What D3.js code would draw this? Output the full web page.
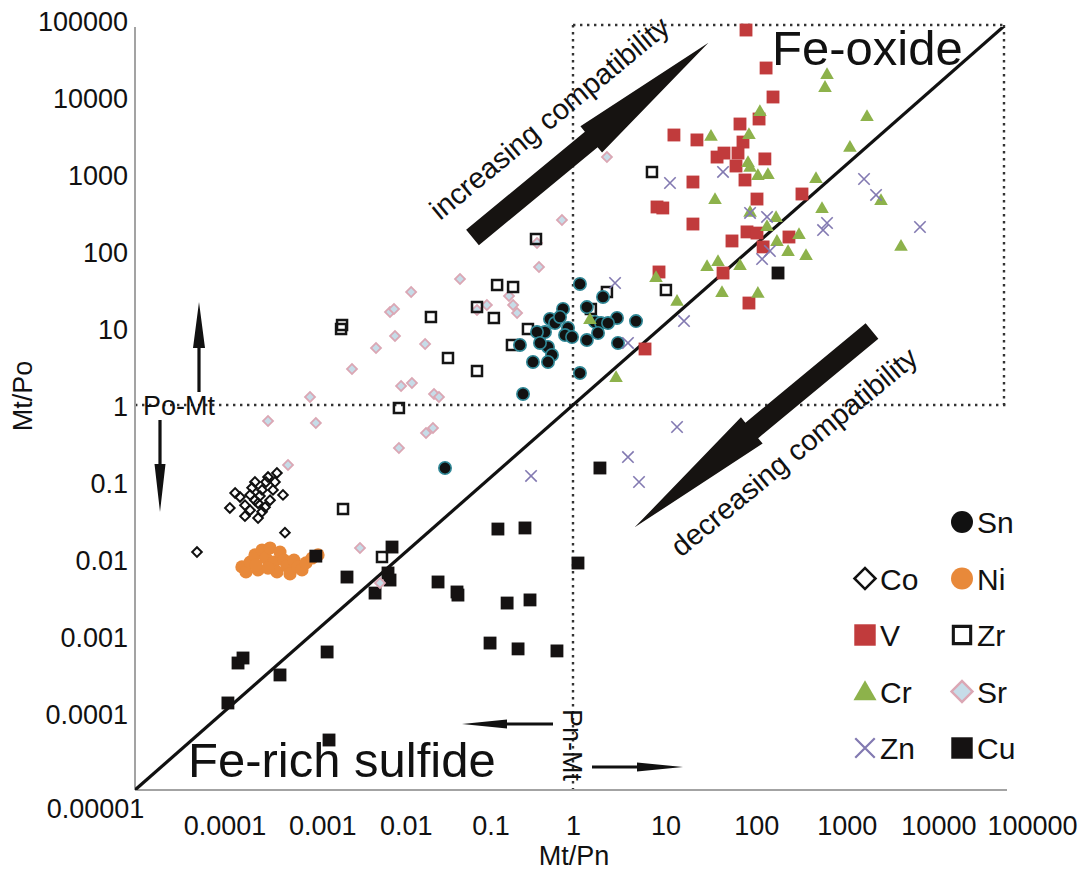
<!DOCTYPE html>
<html>
<head>
<meta charset="utf-8">
<script src="https://cdn.jsdelivr.net/npm/d3@7"></script>
<style>
  html, body { margin: 0; padding: 0; background: #fff; }
  text { font-family: "Liberation Sans", Arial, Helvetica, sans-serif; fill: #111; }
</style>
</head>
<body>
<svg id="chart" width="1086" height="870"></svg>
<script>
// ---- axis ticks ----
const tickValues = [1e-5, 1e-4, 1e-3, 1e-2, 1e-1, 1, 10, 100, 1e3, 1e4, 1e5];
const tickLabels = ["0.00001", "0.0001", "0.001", "0.01", "0.1", "1", "10", "100", "1000", "10000", "100000"];

// ---- element ratios: Mt/Pn (x) and Mt/Po (y) ----
const snMtPn = [1.20, 2.20, 0.769, 1.44, 3.18, 5.24, 1.78, 2.09, 2.51, 0.546, 0.623, 0.877, 0.479, 0.388, 0.811, 1.93, 1.44, 0.518, 0.248, 3.26, 0.576, 0.349, 0.518, 1.20, 0.269, 0.0346, 0.420, 0.711, 0.975];
const snMtPo = [37.3, 25.3, 17.7, 18.7, 13.5, 12.3, 12.0, 11.6, 11.6, 13.1, 11.6, 10.0, 8.87, 8.87, 8.11, 8.61, 6.98, 5.67, 6.02, 6.39, 4.46, 3.62, 3.62, 2.6, 1.39, 0.152, 6.39, 13.9, 7.64];

const coMtPn = [1.21e-4, 1.39e-4, 1.58e-4, 1.80e-4, 2.34e-4, 2.34e-4, 2.54e-4, 2.82e-4, 3.05e-4, 3.30e-4, 3.76e-4, 4.17e-4, 4.89e-4, 5.15e-4, 5.1e-5, 2.06e-4, 2.54e-4, 2.82e-4, 2.06e-4, 3.48e-4, 2.17e-4, 3.13e-4, 2.67e-4, 1.80e-4, 3.96e-4];
const coMtPo = [0.046, 0.072, 0.064, 0.036, 0.100, 0.058, 0.034, 0.079, 0.047, 0.116, 0.079, 0.131, 0.068, 0.022, 0.0123, 0.068, 0.053, 0.041, 0.043, 0.058, 0.084, 0.100, 0.066, 0.050, 0.100];

const niMtPn = [1.66e-4, 1.85e-4, 2.06e-4, 2.34e-4, 2.54e-4, 2.82e-4, 3.13e-4, 3.48e-4, 3.86e-4, 4.18e-4, 4.52e-4, 5.02e-4, 5.43e-4, 5.88e-4, 6.53e-4, 7.26e-4, 8.06e-4, 8.95e-4, 1.05e-3, 1.23e-3, 3.30e-4, 2.41e-4];
const niMtPo = [0.0079, 0.0068, 0.0091, 0.0113, 0.0072, 0.0131, 0.0103, 0.0139, 0.0091, 0.0068, 0.0123, 0.0097, 0.0081, 0.0064, 0.0097, 0.0079, 0.0072, 0.0089, 0.0103, 0.0113, 0.0076, 0.0084];

const vMtPn = [94.4, 160, 192, 80.6, 133, 87.2, 14.2, 26.0, 44.1, 52.9, 76.5, 72.6, 155, 91.9, 23.4, 126, 411, 9.10, 10.6, 23.4, 65.3, 96.9, 126, 148, 292, 9.59, 51.6, 102, 6.64];
const vMtPo = [74100, 23800, 10000, 4460, 5180, 2600, 3210, 2770, 1660, 1870, 1870, 1270, 1570, 836, 787, 473, 550, 373, 362, 224, 135, 177, 171, 113, 152, 53.4, 51.8, 21.1, 5.34];

const zrMtPn = [0.378, 0.136, 0.207, 0.0802, 0.0239, 0.125, 0.306, 0.201, 0.0374, 0.0802, 0.0103, 2.44, 1.60, 11.5, 2.31e-3, 2.25e-3, 7.97, 2.37e-3, 6.6e-3];
const zrMtPo = [143, 36.2, 34.1, 18.7, 13.9, 13.5, 9.7, 6.02, 4.08, 2.76, 0.914, 29.4, 17.7, 31.2, 10.9, 9.7, 1062, 0.0446, 0.0106];

const crMtPn = [794, 753, 136, 2270, 102, 37.6, 1450, 99.5, 105, 129, 168, 594, 41.8, 3280, 105, 208, 696, 164, 213, 380, 285, 457, 33.9, 45.2, 80.6, 5550, 8.86, 50.2, 129, 15.4, 3.10, 1.56];
const crMtPo = [19300, 13100, 6390, 5500, 3210, 3030, 2180, 1390, 1200, 942, 971, 861, 459, 446, 312, 268, 351, 205, 131, 161, 97, 86.1, 62, 71.9, 63.8, 113, 44.6, 28.5, 27.7, 21.8, 2.24, 12.7];

const srMtPn = [0.0513, 0.0142, 8.15e-3, 9.05e-3, 9.29e-3, 0.0205, 5.64e-3, 3.0e-3, 0.0109, 0.0145, 9.95e-4, 0.0259, 0.0295, 3.30e-4, 1.16e-3, 0.021, 0.0252, 0.0103, 0.748, 0.409, 0.388, 0.186, 0.207, 0.230, 0.104, 0.0802, 5.58e-4, 3.70e-3, 6.26e-3, 2.44];
const srMtPo = [43.3, 29.4, 16.1, 17.7, 7.87, 6.2, 5.5, 2.94, 1.77, 1.93, 1.27, 1.39, 1.27, 0.62, 0.584, 0.433, 0.503, 0.276, 253, 62, 127, 26, 19.9, 15.7, 19.9, 17.1, 0.166, 0.0139, 4.88e-3, 1660];

const znMtPn = [51.6, 12.8, 2100, 2880, 105, 164, 794, 715, 9140, 177, 144, 3.02, 18.5, 4.24, 15.4, 4.24, 5.67, 0.332];
const znMtPo = [1062, 764, 861, 534, 312, 277, 231, 187, 205, 100, 78.7, 38.4, 12.3, 6.39, 0.518, 0.211, 0.100, 0.120];

const cuMtPn = [1.15e-4, 1.50e-4, 1.71e-4, 4.52e-4, 1.56e-3, 1.64e-3, 1.16e-3, 2.63e-3, 5.50e-3, 7.73e-3, 8.15e-3, 8.59e-3, 0.0288, 0.0474, 0.0486, 0.139, 0.283, 0.177, 0.323, 0.113, 0.236, 0.656, 1.14, 2.03, 219];
const cuMtPo = [1.35e-4, 4.46e-4, 5.18e-4, 3.12e-4, 6.2e-4, 4.46e-5, 0.0109, 5.83e-3, 3.61e-3, 6.58e-3, 5.33e-3, 0.0143, 5.03e-3, 3.73e-3, 3.40e-3, 0.0245, 0.0253, 2.68e-3, 2.94e-3, 8.1e-4, 6.8e-4, 6.4e-4, 8.87e-3, 0.152, 51.8];

// ---- chart ----
const svg = d3.select("#chart");
const W = 1086, H = 870;
const x = d3.scaleLog().domain([1e-5, 1e5]).range([135, 1011]);
const y = d3.scaleLog().domain([1e-5, 1e5]).range([790, 20]);
const plotTop = 27, plotRight = 1007;

svg.append("rect").attr("width", W).attr("height", H).attr("fill", "#fff");

svg.append("defs").append("clipPath").attr("id", "plotClip")
  .append("rect").attr("x", x(1e-5)).attr("y", plotTop)
  .attr("width", plotRight - x(1e-5)).attr("height", y(1e-5) - plotTop);

// dotted field boundaries
const dotted = svg.append("g").attr("stroke", "#333").attr("stroke-width", 2.4)
  .attr("stroke-dasharray", "2.4,4.6").attr("fill", "none");
dotted.append("line").attr("x1", x(1)).attr("x2", x(1)).attr("y1", 25).attr("y2", y(1e-5));
dotted.append("line").attr("x1", x(1e-5)).attr("x2", plotRight).attr("y1", y(1)).attr("y2", y(1));
dotted.append("line").attr("x1", x(1)).attr("x2", 1004).attr("y1", 25).attr("y2", 25);
dotted.append("line").attr("x1", 1004).attr("x2", 1004).attr("y1", 25).attr("y2", y(1));

// axis lines
svg.append("line").attr("x1", x(1e-5)).attr("x2", x(1e-5)).attr("y1", plotTop).attr("y2", y(1e-5))
  .attr("stroke", "#a3a3a3").attr("stroke-width", 2);
svg.append("line").attr("x1", x(1e-5)).attr("x2", plotRight).attr("y1", y(1e-5)).attr("y2", y(1e-5))
  .attr("stroke", "#a3a3a3").attr("stroke-width", 2);

// 1:1 line
svg.append("line").attr("clip-path", "url(#plotClip)")
  .attr("x1", x(1e-5)).attr("y1", y(1e-5)).attr("x2", x(1e5)).attr("y2", y(1e5))
  .attr("stroke", "#111").attr("stroke-width", 3.2);

// y axis
const labelOf = d => tickLabels[tickValues.indexOf(d)];
const yAxisG = svg.append("g").attr("transform", `translate(${x(1e-5)},0)`)
  .call(d3.axisLeft(y).tickValues(tickValues.slice(1)).tickFormat(labelOf).tickSize(0).tickPadding(7));
yAxisG.select(".domain").remove();
yAxisG.selectAll("text").attr("font-size", 27).attr("fill", "#111")
  .attr("font-family", "Liberation Sans, Arial, sans-serif").attr("dy", "0.38em");

// x axis (labels are spaced a little wider toward the ends)
const xNudge = new Map([[1e-5, -40], [1e-4, 2], [1e-3, 12], [1e-2, 8], [1e-1, 5], [1, 0], [10, 5], [100, 8], [1e3, 11], [1e4, 15], [1e5, 21]]);
const xAxisG = svg.append("g").attr("transform", `translate(0,${y(1e-5)})`)
  .call(d3.axisBottom(x).tickValues(tickValues).tickFormat(labelOf).tickSize(0).tickPadding(26));
xAxisG.select(".domain").remove();
xAxisG.selectAll(".tick text").attr("font-size", 27).attr("fill", "#111")
  .attr("font-family", "Liberation Sans, Arial, sans-serif")
  .attr("x", d => xNudge.get(d))
  .attr("y", d => d === 1e-5 ? 9 : 26);

// axis titles
svg.append("text").attr("transform", "translate(32,396) rotate(-90)")
  .attr("text-anchor", "middle").attr("font-size", 27).text("Mt/Po");
svg.append("text").attr("x", 574).attr("y", 865)
  .attr("text-anchor", "middle").attr("font-size", 27).text("Mt/Pn");

// ---- marker shapes ----
const crossShape = {
  draw(ctx, size) {
    const r = Math.sqrt(size) / 2;
    ctx.moveTo(-r, -r); ctx.lineTo(r, r);
    ctx.moveTo(r, -r); ctx.lineTo(-r, r);
  }
};

const styles = {
  Sn: { type: d3.symbolCircle, size: 120, fill: "#121212", stroke: "#2f8796", sw: 1.6, rot: 0, lsize: 380 },
  Co: { type: d3.symbolSquare, size: 46, fill: "none", stroke: "#111", sw: 2, rot: 45, lsize: 220 },
  Ni: { type: d3.symbolCircle, size: 135, fill: "#e8893a", stroke: "none", sw: 0, rot: 0, lsize: 380 },
  V:  { type: d3.symbolSquare, size: 165, fill: "#c13b3c", stroke: "none", sw: 0, rot: 0, lsize: 460 },
  Zr: { type: d3.symbolSquare, size: 100, fill: "none", stroke: "#151515", sw: 2.5, rot: 0, lsize: 300 },
  Cr: { type: d3.symbolTriangle, size: 80, fill: "#8db24b", stroke: "none", sw: 0, rot: 0, lsize: 230 },
  Sr: { type: d3.symbolSquare, size: 50, fill: "#c6dce8", stroke: "#dba7b4", sw: 1.8, rot: 45, lsize: 220 },
  Zn: { type: crossShape, size: 130, fill: "none", stroke: "#8279b1", sw: 1.6, rot: 0, lsize: 380 },
  Cu: { type: d3.symbolSquare, size: 165, fill: "#151212", stroke: "none", sw: 0, rot: 0, lsize: 460 }
};

const series = [
  { name: "Co", xs: coMtPn, ys: coMtPo },
  { name: "Ni", xs: niMtPn, ys: niMtPo },
  { name: "Cu", xs: cuMtPn, ys: cuMtPo },
  { name: "Sr", xs: srMtPn, ys: srMtPo },
  { name: "Zr", xs: zrMtPn, ys: zrMtPo },
  { name: "Sn", xs: snMtPn, ys: snMtPo },
  { name: "V",  xs: vMtPn,  ys: vMtPo },
  { name: "Cr", xs: crMtPn, ys: crMtPo },
  { name: "Zn", xs: znMtPn, ys: znMtPo }
];

const pts = svg.append("g");
series.forEach(s => {
  const st = styles[s.name];
  const sym = d3.symbol().type(st.type).size(st.size);
  pts.append("g").selectAll("path").data(s.xs.map((v, i) => [v, s.ys[i]])).join("path")
    .attr("d", sym)
    .attr("transform", d => `translate(${x(d[0])},${y(d[1])}) rotate(${st.rot})`)
    .attr("fill", st.fill).attr("stroke", st.stroke).attr("stroke-width", st.sw);
});

// ---- field labels ----
svg.append("text").attr("x", 772).attr("y", 65).attr("font-size", 49).text("Fe-oxide");
svg.append("text").attr("x", 188).attr("y", 777).attr("font-size", 49).text("Fe-rich sulfide");

// ---- compatibility arrows ----
function bigArrow(len, shaftHalf, headLen, headHalf) {
  const p = d3.path();
  p.moveTo(0, -shaftHalf); p.lineTo(len - headLen, -shaftHalf); p.lineTo(len - headLen, -headHalf);
  p.lineTo(len, 0); p.lineTo(len - headLen, headHalf); p.lineTo(len - headLen, shaftHalf);
  p.lineTo(0, shaftHalf); p.closePath();
  return p.toString();
}
svg.append("path").attr("d", bigArrow(306, 10, 152, 17))
  .attr("transform", "translate(472.5,237.5) rotate(-39.55)").attr("fill", "#161311");
svg.append("path").attr("d", bigArrow(308, 10, 152, 17))
  .attr("transform", "translate(872,331) rotate(140.4)").attr("fill", "#161311");
svg.append("text").attr("transform", "translate(440,221) rotate(-39.5)")
  .attr("font-size", 29).text("increasing compatibility");
svg.append("text").attr("transform", "translate(681,558) rotate(-39.5)")
  .attr("font-size", 29).text("decreasing compatibility");

// ---- phase boundary annotations ----
function thinArrow(x1, y1, x2, y2, headLen, headHalf, shaft) {
  const g = svg.append("g");
  const ang = Math.atan2(y2 - y1, x2 - x1) * 180 / Math.PI;
  const len = Math.hypot(x2 - x1, y2 - y1);
  const p = d3.path();
  p.moveTo(0, -shaft / 2); p.lineTo(len - headLen, -shaft / 2); p.lineTo(len - headLen, -headHalf);
  p.lineTo(len, 0); p.lineTo(len - headLen, headHalf); p.lineTo(len - headLen, shaft / 2);
  p.lineTo(0, shaft / 2); p.closePath();
  g.append("path").attr("d", p.toString()).attr("fill", "#111")
    .attr("transform", `translate(${x1},${y1}) rotate(${ang})`);
}
svg.append("text").attr("x", 143).attr("y", 415).attr("font-size", 27).text("Po-Mt");
thinArrow(199, 392, 199, 302, 46, 6, 3.2);
thinArrow(160, 420, 160, 512, 48, 5.5, 3.2);

svg.append("text").attr("transform", `translate(${x(1) - 10},745) rotate(90)`)
  .attr("text-anchor", "middle").attr("font-size", 27).text("Pn-Mt");
thinArrow(553, 724, 462, 724, 45, 4.5, 3);
thinArrow(592, 767, 683, 767, 46, 4.5, 3);

// ---- legend ----
const legendNames = ["Sn", "Co", "Ni", "V", "Zr", "Cr", "Sr", "Zn", "Cu"];
const legendCol = [1, 0, 1, 0, 1, 0, 1, 0, 1];
const legendRow = [0, 1, 1, 2, 2, 3, 3, 4, 4];
const colX = [865, 962], rowY0 = 522, rowStep = 56.5;
const lg = svg.append("g");
legendNames.forEach((n, i) => {
  const st = styles[n];
  const cx = colX[legendCol[i]], cy = rowY0 + legendRow[i] * rowStep;
  lg.append("path").attr("d", d3.symbol().type(st.type).size(st.lsize)())
    .attr("transform", `translate(${cx},${cy + (n === "Cr" ? 2 : 0)}) rotate(${st.rot})`)
    .attr("fill", n === "Sn" ? "#111" : st.fill)
    .attr("stroke", n === "Sn" ? "none" : st.stroke)
    .attr("stroke-width", n === "Zn" ? 2.2 : (st.sw ? st.sw + 0.6 : 0));
  lg.append("text").attr("x", cx + 15).attr("y", cy + 11).attr("font-size", 30).text(n);
});
</script>
</body>
</html>
